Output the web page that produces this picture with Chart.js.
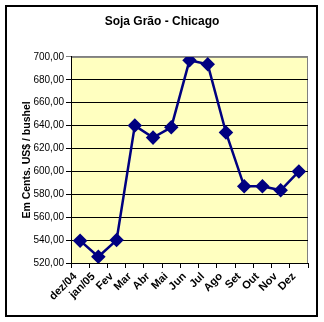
<!DOCTYPE html>
<html>
<head>
<meta charset="utf-8">
<script src="https://cdn.jsdelivr.net/npm/chart.js@4/dist/chart.umd.min.js"></script>
<style>
  html, body { margin: 0; padding: 0; background: #fff; }
  #wrap { position: relative; width: 324px; height: 322px; }
  #frame {
    position: absolute; left: 5px; top: 5px; width: 309px; height: 308px;
    border: 2px solid #000; pointer-events: none;
  }
</style>
</head>
<body>
<div id="wrap">
  <canvas id="chart" width="324" height="322"></canvas>
  <div id="frame"></div>
</div>
<script>
  // ---------- data ----------
  const months = ['dez/04', 'jan/05', 'Fev', 'Mar', 'Abr', 'Mai', 'Jun', 'Jul', 'Ago', 'Set', 'Out', 'Nov', 'Dez'];
  const prices = [539.5, 525.5, 540, 640, 629.5, 638.5, 697, 693.5, 634, 587, 587, 583.5, 600];
  const yMin = 520;
  const yMax = 700;
  const yStep = 20;

  const FONT = 'Arial, "Liberation Sans", sans-serif';
  const fmt = v => Number(v).toFixed(2).replace('.', ',');

  // yellow plot background with grey frame, like the old spreadsheet chart
  const plotBg = {
    id: 'plotBg',
    beforeDraw(chart) {
      const { ctx, chartArea: a } = chart;
      ctx.save();
      ctx.fillStyle = '#FFFFC0';
      ctx.fillRect(a.left, a.top, a.right - a.left, a.bottom - a.top);
      ctx.strokeStyle = '#808080';
      ctx.lineWidth = 1;
      ctx.strokeRect(a.left + 0.5, a.top + 0.5, a.right - a.left - 1, a.bottom - a.top);
      ctx.restore();
    },
  };

  new Chart(document.getElementById('chart'), {
    type: 'line',
    data: {
      labels: months,
      datasets: [{
        data: prices,
        borderColor: '#000080',
        backgroundColor: '#000080',
        borderWidth: 2.5,
        tension: 0,
        pointStyle: 'rectRot',
        pointRadius: 5.5,
        pointBackgroundColor: '#000080',
        pointBorderColor: '#000080',
      }],
    },
    options: {
      responsive: false,
      animation: false,
      layout: { padding: { left: 16, right: 16, top: 0, bottom: 0 } },
      plugins: {
        legend: { display: false },
        tooltip: { enabled: false },
        title: {
          display: true,
          text: 'Soja Grão - Chicago',
          color: '#000',
          font: { family: FONT, size: 12, weight: 'bold' },
          padding: { top: 14.5, bottom: 28 },
        },
      },
      scales: {
        x: {
          offset: true,
          grid: { offset: true, drawOnChartArea: false, drawTicks: true, tickLength: 5, color: '#000' },
          border: { color: '#000', width: 1 },
          ticks: {
            color: '#000',
            maxRotation: 45,
            minRotation: 45,
            autoSkip: false,
            padding: 2,
            labelOffset: -5,
            font: { family: FONT, size: 11, weight: 'bold' },
          },
          afterFit(scale) { scale.height = 59; },
        },
        y: {
          min: yMin,
          max: yMax,
          grid: {
            color: ctx => (ctx.tick && ctx.tick.value === yMax ? '#808080' : '#000'),
            tickLength: 5,
            lineWidth: 1,
          },
          border: { color: '#000', width: 1 },
          ticks: {
            stepSize: yStep,
            color: '#000',
            padding: 2,
            callback: v => fmt(v),
            font: { family: FONT, size: 10 },
          },
          title: {
            display: true,
            text: 'Em Cents. US$ / bushel',
            color: '#000',
            font: { family: FONT, size: 10.5, weight: 'bold' },
            padding: { top: 5, bottom: 0 },
          },
          afterFit(scale) { scale.width = 55; },
        },
      },
    },
    plugins: [plotBg],
  });
</script>
</body>
</html>
